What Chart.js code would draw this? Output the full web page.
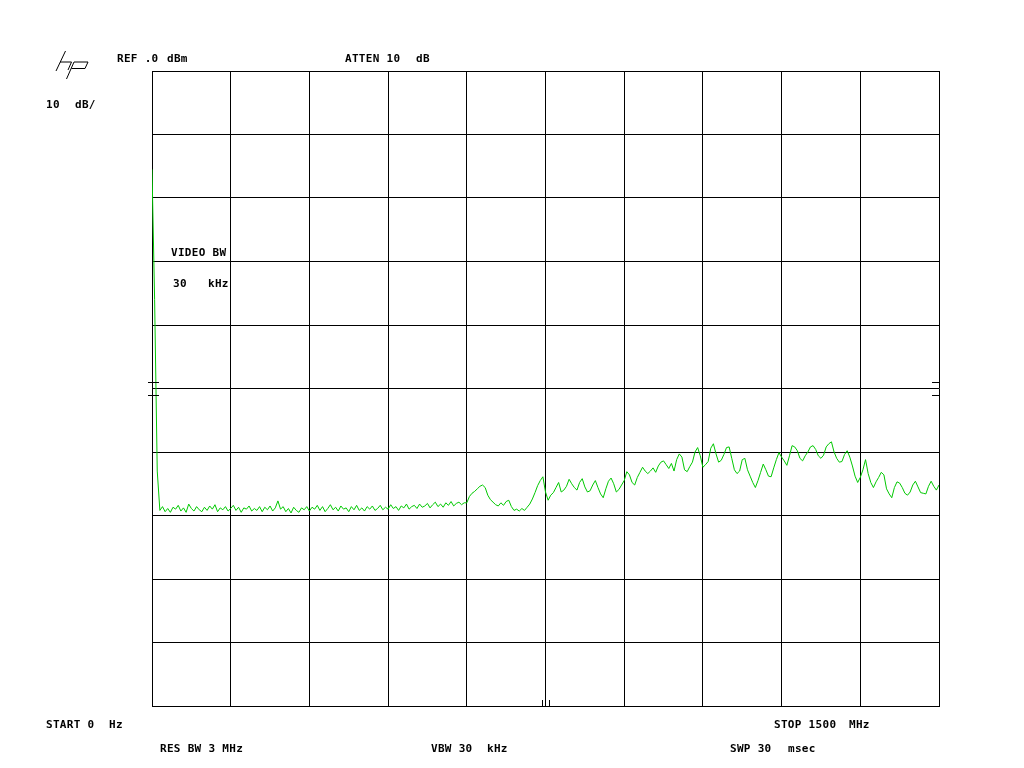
<!DOCTYPE html>
<html>
<head>
<meta charset="utf-8">
<title>Spectrum plot</title>
<script src="https://cdn.jsdelivr.net/npm/chart.js@4/dist/chart.umd.min.js"></script>
<style>
    html, body { margin: 0; padding: 0; background: #fff; }
    #plot { display: block; }
</style>
</head>
<body>
<canvas id="plot" width="1024" height="768"></canvas>
<script>
// ==================== SWEEP DATA ====================

const START_MHZ = 0;
const STOP_MHZ = 1500;
const STEP_MHZ = 5;             // one sample every 5 MHz
const REF_DBM = 0;
const DB_PER_DIV = 10;
const DIVISIONS = 10;

// LO feedthrough at 0 Hz
const spikeDbm = [-15.5, -36.0, -63.0];

// noise floor, 15 MHz .. 595 MHz
const floorDbm = [
    -69.2, -68.6, -69.4, -68.9, -69.5, -68.7, -69.0, -68.4, -69.3, -68.8, -69.5, -68.2, -68.9, -69.3, -68.6, -69.1, -69.4,
    -68.7, -69.2, -68.5, -69.0, -68.3, -69.4, -68.8, -69.1, -68.6, -69.3, -68.9, -68.4, -69.2, -68.7, -69.5, -68.8, -69.0, -68.5, -69.3, -68.9,
    -69.2, -68.6, -69.4, -68.7, -69.1, -68.5, -69.3, -68.8, -67.7, -69.0, -68.6, -69.4, -68.9, -69.6, -68.7, -69.2, -69.5, -68.8, -69.1, -68.6,
    -69.3, -68.7, -69.0, -68.4, -69.2, -68.6, -69.4, -68.9, -68.3, -69.1, -68.7, -69.3, -68.5, -69.0, -68.8, -69.4, -68.6, -69.1, -68.4, -69.2,
    -68.8, -69.3, -68.6, -69.0, -68.5, -69.2, -68.9, -68.4, -69.1, -68.7, -69.0, -68.3, -68.9, -68.6, -69.2, -68.5, -68.8, -68.2, -69.0, -68.6,
    -68.4, -68.9, -68.2, -68.7, -68.5, -68.1, -68.8, -68.3, -67.9, -68.6, -68.2, -68.7, -68.0, -68.4, -67.8, -68.5, -68.1, -67.9, -68.3, -68.0
];

// upper band, 600 MHz .. 1500 MHz
const bandDbm = [
    -68.0, -67.0, -66.5, -66.2, -65.8, -65.4, -65.2, -65.6, -66.8, -67.5,
    -67.9, -68.3, -68.5, -68.0, -68.4, -67.8, -67.6, -68.6, -69.2, -69.0,
    -69.3, -68.9, -69.2, -68.7, -68.2, -67.4, -66.4, -65.3, -64.5, -63.9,
    -66.3, -67.6, -66.8, -66.4, -65.6, -64.8, -66.3, -66.0, -65.4, -64.3,
    -65.0, -65.6, -66.0, -64.8, -64.2, -65.5, -66.3, -66.1, -65.2, -64.5,
    -65.6, -66.6, -67.2, -65.8, -64.6, -64.1, -65.0, -66.3, -65.9, -65.2,
    -64.5, -63.1, -63.6, -64.8, -65.2, -64.0, -63.2, -62.4, -63.0, -63.4,
    -63.0, -62.5, -63.2, -62.2, -61.6, -61.4, -62.0, -62.6, -61.8, -63.0,
    -61.2, -60.3, -60.8, -62.8, -63.1, -62.3, -61.6, -60.0, -59.3, -60.6,
    -62.4, -62.0, -61.5, -59.4, -58.7, -60.3, -61.6, -61.3, -60.4, -59.3,
    -59.2, -61.0, -62.8, -63.4, -63.0, -61.2, -61.0, -62.8, -63.8, -64.8,
    -65.6, -64.5, -63.2, -61.9, -62.8, -63.8, -63.9, -62.5, -61.2, -60.1,
    -60.8, -61.4, -62.1, -60.6, -59.0, -59.2, -59.8, -61.0, -61.4, -60.6,
    -60.0, -59.2, -59.0, -59.6, -60.6, -61.0, -60.5, -59.2, -58.7, -58.4,
    -60.0, -61.0, -61.6, -61.5, -60.4, -59.8, -60.8, -62.2, -63.8, -64.8,
    -64.0, -62.8, -61.2, -63.4, -64.8, -65.6, -64.7, -64.0, -63.2, -63.6,
    -65.8, -66.6, -67.2, -65.6, -64.7, -64.9, -65.6, -66.5, -66.8, -66.3,
    -65.2, -64.6, -65.5, -66.4, -66.5, -66.6, -65.4, -64.6, -65.4, -66.0, -65.2
];

// small reference marks drawn on the graticule
const levelMarksDbm = [-49, -51];
const freqMarksMhz = [744, 757];

// annotation texts: [text, x, y]
const annotations = [
    ['REF .0', 117, 59], ['dBm', 167, 59],
    ['ATTEN 10', 345, 59], ['dB', 416, 59],
    ['10', 46, 105], ['dB/', 75, 105],
    ['VIDEO BW', 171, 253], ['30', 173, 284], ['kHz', 208, 284],
    ['START 0', 46, 725], ['Hz', 109, 725],
    ['STOP 1500', 774, 725], ['MHz', 849, 725],
    ['RES BW 3 MHz', 160, 749],
    ['VBW 30', 431, 749], ['kHz', 487, 749],
    ['SWP 30', 730, 749], ['msec', 788, 749]
];

// ==================== CHART ====================

document.addEventListener('DOMContentLoaded', function() {
    createSpectrumChart();
});

// Build x/y points for the trace
function buildTrace() {
    const levels = spikeDbm.concat(floorDbm, bandDbm);
    return levels.map((dbm, i) => ({ x: START_MHZ + i * STEP_MHZ, y: dbm }));
}

// Plotter annotations, hp logo and graticule marks
const plotterDecor = {
    id: 'plotterDecor',
    afterDraw(chart) {
        const ctx = chart.ctx;
        const xs = chart.scales.x;
        const ys = chart.scales.y;
        const area = chart.chartArea;

        ctx.save();
        ctx.fillStyle = '#000';
        ctx.font = 'bold 11px "DejaVu Sans Mono", monospace';
        ctx.letterSpacing = '0.3px';
        ctx.textBaseline = 'middle';
        ctx.textAlign = 'left';
        annotations.forEach(a => ctx.fillText(a[0], a[1], a[2]));

        // level marks on both edges
        ctx.strokeStyle = '#000';
        ctx.lineWidth = 1;
        ctx.beginPath();
        levelMarksDbm.forEach(v => {
            const y = Math.round(ys.getPixelForValue(v)) + 0.5;
            ctx.moveTo(area.left - 4, y);
            ctx.lineTo(area.left + 7, y);
            ctx.moveTo(area.right - 7, y);
            ctx.lineTo(area.right, y);
        });
        // frequency marks on the bottom edge
        freqMarksMhz.forEach(f => {
            const x = Math.round(xs.getPixelForValue(f)) + 0.5;
            ctx.moveTo(x, area.bottom);
            ctx.lineTo(x, area.bottom - 6);
        });
        ctx.stroke();

        // hp logo
        ctx.beginPath();
        ctx.moveTo(65.5, 51); ctx.lineTo(56, 71);        // h stem
        ctx.moveTo(60, 62); ctx.lineTo(71.5, 62);        // h shoulder
        ctx.lineTo(68, 70);                              // h leg
        ctx.moveTo(74, 62); ctx.lineTo(88, 62);          // p bowl top
        ctx.lineTo(85, 68.5); ctx.lineTo(71.5, 68.5);    // p bowl
        ctx.moveTo(74, 62); ctx.lineTo(66.5, 79);        // p stem
        ctx.stroke();
        ctx.restore();
    }
};

function createSpectrumChart() {
    const ctx = document.getElementById('plot').getContext('2d');

    new Chart(ctx, {
        type: 'line',
        data: {
            datasets: [{
                data: buildTrace(),
                borderColor: 'rgb(0, 200, 0)',
                borderWidth: 1,
                pointRadius: 0,
                tension: 0,
                fill: false
            }]
        },
        options: {
            responsive: false,
            animation: false,
            events: [],
            layout: { padding: { left: 152, right: 85, top: 71, bottom: 62 } },
            plugins: {
                legend: { display: false },
                tooltip: { enabled: false }
            },
            scales: {
                x: {
                    type: 'linear',
                    min: START_MHZ,
                    max: STOP_MHZ,
                    ticks: { display: false, stepSize: (STOP_MHZ - START_MHZ) / DIVISIONS },
                    grid: { color: '#000', lineWidth: 1, drawTicks: false },
                    border: { display: true, color: '#000', width: 1 }
                },
                y: {
                    min: REF_DBM - DB_PER_DIV * DIVISIONS,
                    max: REF_DBM,
                    ticks: { display: false, stepSize: DB_PER_DIV },
                    grid: { color: '#000', lineWidth: 1, drawTicks: false },
                    border: { display: true, color: '#000', width: 1 }
                }
            }
        },
        plugins: [plotterDecor]
    });
}
</script>
</body>
</html>
